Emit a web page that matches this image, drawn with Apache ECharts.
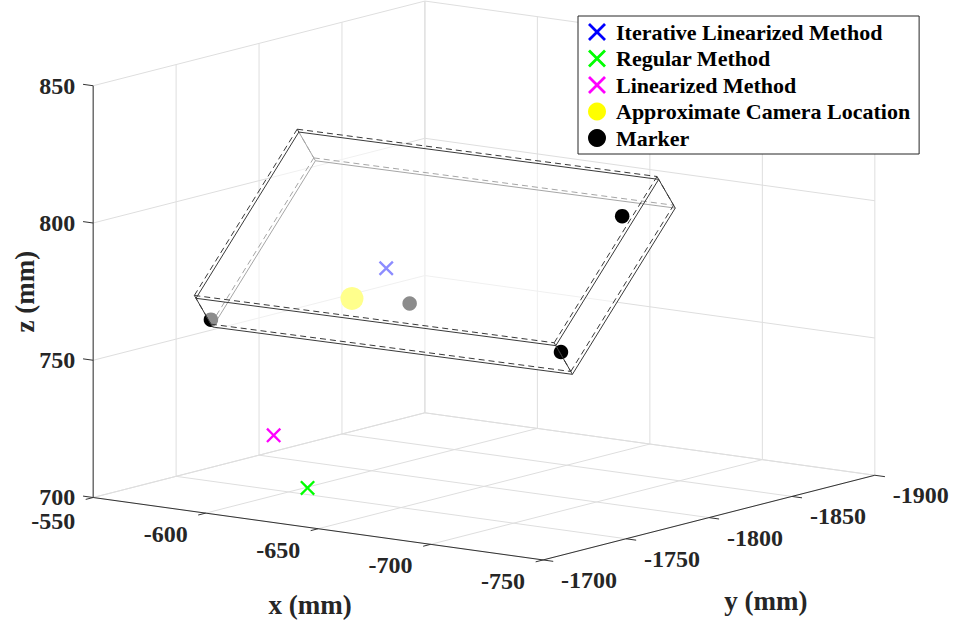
<!DOCTYPE html>
<html><head><meta charset="utf-8">
<script src="https://cdn.jsdelivr.net/npm/echarts@6/dist/echarts.min.js"></script>
<style>html,body{margin:0;padding:0;background:#fff}#c{width:955px;height:622px}</style>
</head><body><div id="c"></div>
<script>
// ---------------- data (mm) ----------------
const xTicks = [-550, -600, -650, -700, -750];
const yTicks = [-1700, -1750, -1800, -1850, -1900];
const zTicks = [700, 750, 800, 850];
const xTickLabels = ['-550', '-600', '-650', '-700', '-750'];
const yTickLabels = ['-1700', '-1750', '-1800', '-1850', '-1900'];
const zTickLabels = ['700', '750', '800', '850'];
const axisTitles = ['x (mm)', 'y (mm)', 'z (mm)'];
const seriesNames = ['Iterative Linearized Method', 'Regular Method', 'Linearized Method', 'Approximate Camera Location', 'Marker'];

const iterX = [-608], iterY = [-1798], iterZ = [775];
const regularX = [-604], regularY = [-1756], regularZ = [701];
const linX = [-600], linY = [-1741], linZ = [722];
const camX = [-595], camY = [-1795], camZ = [763];
const markerX = [-550.8, -626.9, -712.6, -707];
const markerY = [-1769.9, -1786.5, -1761.5, -1806];
const markerZ = [754.1, 766.1, 762.0, 804];

// board (thin box): one corner and its three edge vectors
const boardOrigin = [-550, -1762, 763];
const boardEdge1 = [-157, -4, 0];
const boardEdge2 = [0, -62, 51];
const boardEdge3 = [0, -10, -12];
const boardOutlineShift = [0, 1, 1.2]; // second (dashed) outline

// ---------------- 3D view (orthographic) ----------------
const VIEW = { az: 36.4, el: 10.85, scale: 2.795, cx: 484, cy: 280.5 };
const XC = (Math.min(...xTicks) + Math.max(...xTicks)) / 2;
const YC = (Math.min(...yTicks) + Math.max(...yTicks)) / 2;
const ZC = (Math.min(...zTicks) + Math.max(...zTicks)) / 2;
const ct = Math.cos(VIEW.az * Math.PI / 180), st = Math.sin(VIEW.az * Math.PI / 180);
const cp = Math.cos(VIEW.el * Math.PI / 180), sp = Math.sin(VIEW.el * Math.PI / 180);
function rot(d) { // data-direction -> [sx, sy, depth]
  const u = -d[0], v = -d[1], w = d[2];
  return [VIEW.scale * (u * ct + v * st),
          VIEW.scale * sp * (u * st - v * ct) - VIEW.scale * cp * w,
          cp * st * u - cp * ct * v + sp * w];
}
function proj(p) {
  const r = rot([p[0] - XC, p[1] - YC, p[2] - ZC]);
  return [VIEW.cx + r[0], VIEW.cy + r[1], r[2]];
}
const add = (a, b) => [a[0] + b[0], a[1] + b[1], a[2] + b[2]];
const mul = (a, k) => [a[0] * k, a[1] * k, a[2] * k];

const X0 = xTicks[0], X1 = xTicks[xTicks.length - 1];
const Y0 = yTicks[0], Y1 = yTicks[yTicks.length - 1];
const Z0 = zTicks[0], Z1 = zTicks[zTicks.length - 1];

// ---------------- grid lines on the three back planes ----------------
const gridSegs = [];
function seg3(a, b) { const p = proj(a), q = proj(b); return [p[0], p[1], q[0], q[1]]; }
xTicks.forEach(x => { gridSegs.push(seg3([x, Y0, Z0], [x, Y1, Z0])); gridSegs.push(seg3([x, Y1, Z0], [x, Y1, Z1])); });
yTicks.forEach(y => { gridSegs.push(seg3([X0, y, Z0], [X1, y, Z0])); gridSegs.push(seg3([X0, y, Z0], [X0, y, Z1])); });
zTicks.forEach(z => { gridSegs.push(seg3([X0, Y0, z], [X0, Y1, z])); gridSegs.push(seg3([X0, Y1, z], [X1, Y1, z])); });

// ---------------- axes + ticks ----------------
const axisSegs = [seg3([X0, Y0, Z0], [X0, Y0, Z1]), seg3([X0, Y0, Z0], [X1, Y0, Z0]), seg3([X1, Y0, Z0], [X1, Y1, Z0])];
const TICK = 4.5;
xTicks.forEach(x => axisSegs.push(seg3([x, Y0, Z0], [x, Y0 + TICK, Z0])));
yTicks.forEach(y => axisSegs.push(seg3([X1, y, Z0], [X1 - TICK, y, Z0])));
zTicks.forEach(z => axisSegs.push(seg3([X0, Y0, z], [X0 + TICK, Y0, z])));

// ---------------- board geometry ----------------
const E = [boardEdge1, boardEdge2, boardEdge3];
function vert(o, idx) { let p = o; for (let k = 0; k < 3; k++) if (idx[k]) p = add(p, E[k]); return p; }
function cross(a, b) { return [a[1] * b[2] - a[2] * b[1], a[2] * b[0] - a[0] * b[2], a[0] * b[1] - a[1] * b[0]]; }
const dot = (a, b) => a[0] * b[0] + a[1] * b[1] + a[2] * b[2];
const faces = [];
for (let k = 0; k < 3; k++) for (let s = 0; s < 2; s++) {
  const i1 = (k + 1) % 3, i2 = (k + 2) % 3;
  let n = cross(E[i1], E[i2]);
  if (dot(n, E[k]) < 0) n = mul(n, -1);
  if (!s) n = mul(n, -1);
  const front = rot(n)[2] > 0;
  const base = [0, 0, 0]; base[k] = s;
  faces.push({ k, s, front, o: vert(boardOrigin, base), a: E[i1], b: E[i2] });
}
const faceFront = (k, s) => faces.find(f => f.k === k && f.s === s).front;
function boxEdges(o, hidden) {
  const out = [];
  for (let k = 0; k < 3; k++) {
    const i1 = (k + 1) % 3, i2 = (k + 2) % 3;
    for (let p = 0; p < 2; p++) for (let q = 0; q < 2; q++) {
      const vis = faceFront(i1, p) || faceFront(i2, q);
      if (vis === hidden) continue;
      const a = [0, 0, 0]; a[i1] = p; a[i2] = q;
      const b = a.slice(); b[k] = 1;
      out.push(seg3(vert(o, a), vert(o, b)));
    }
  }
  return out;
}
const shiftedOrigin = add(boardOrigin, boardOutlineShift);
const facePolys = faces.filter(f => f.front).map(f => {
  const c = [f.o, add(f.o, f.a), add(add(f.o, f.a), f.b), add(f.o, f.b)].map(proj);
  return c.map(p => [p[0], p[1]]);
});

// is a point hidden behind a front face of the board?
function isBehind(p) {
  const P = proj(p);
  for (const f of faces) {
    if (!f.front) continue;
    const O = proj(f.o), A = rot(f.a), B = rot(f.b);
    const dx = P[0] - O[0], dy = P[1] - O[1];
    const det = A[0] * B[1] - A[1] * B[0];
    const m = (dx * B[1] - dy * B[0]) / det, n = (A[0] * dy - A[1] * dx) / det;
    const eps = 0.04;
    if (m < -eps || m > 1 + eps || n < -eps || n > 1 + eps) continue;
    const fd = O[2] + m * A[2] + n * B[2];
    if (P[2] < fd - 0.01) return true;
  }
  return false;
}

// ---------------- series ----------------
function segSeries(segs, stroke, width, dash, z) {
  return {
    type: 'custom', silent: true, z: z, data: segs,
    dimensions: ['x1', 'y1', 'x2', 'y2'], encode: { x: [0, 2], y: [1, 3] },
    renderItem: (params, api) => {
      const a = api.coord([api.value(0), api.value(1)]);
      const b = api.coord([api.value(2), api.value(3)]);
      return { type: 'line', shape: { x1: a[0], y1: a[1], x2: b[0], y2: b[1] },
        style: { stroke: stroke, lineWidth: width, lineDash: dash || null, fill: null } };
    }
  };
}
function textSeries(items, font, fill, align, rotation) {
  return {
    type: 'custom', silent: true, z: 7,
    data: items.map(t => [t[0], t[1]]),
    renderItem: (params, api) => {
      const c = api.coord([api.value(0), api.value(1)]);
      return { type: 'text', x: c[0], y: c[1], rotation: rotation || 0,
        style: { text: items[params.dataIndex][2], font: font, fill: fill, align: align, verticalAlign: 'middle' } };
    }
  };
}
const XSYM = 'path://M0,2.2L2.2,0L10,7.8L17.8,0L20,2.2L12.2,10L20,17.8L17.8,20L10,12.2L2.2,20L0,17.8L7.8,10Z';
const scatterDefs = [
  { name: seriesNames[0], X: iterX, Y: iterY, Z: iterZ, color: '#0000ff', symbol: XSYM, size: 15 },
  { name: seriesNames[1], X: regularX, Y: regularY, Z: regularZ, color: '#00ff00', symbol: XSYM, size: 15 },
  { name: seriesNames[2], X: linX, Y: linY, Z: linZ, color: '#ff00ff', symbol: XSYM, size: 15 },
  { name: seriesNames[3], X: camX, Y: camY, Z: camZ, color: '#ffff00', symbol: 'circle', size: 23 },
  { name: seriesNames[4], X: markerX, Y: markerY, Z: markerZ, color: '#000000', symbol: 'circle', size: 14.5 }
];
const scatterSeries = [];
scatterDefs.forEach(d => {
  const back = [], front = [];
  d.X.forEach((x, i) => {
    const p = [x, d.Y[i], d.Z[i]];
    const s = proj(p);
    (isBehind(p) ? back : front).push([s[0], s[1]]);
  });
  [[back, 3], [front, 4.5]].forEach(([data, z]) => {
    scatterSeries.push({ type: 'scatter', name: d.name, data: data, symbol: d.symbol, symbolSize: d.size,
      itemStyle: { color: d.color, opacity: 1 }, z: z, silent: true });
  });
});

const FONT_TICK = 'bold 24px "Liberation Serif", "Times New Roman", serif';
const FONT_TITLE = 'bold 27px "Liberation Serif", "Times New Roman", serif';
const xLab = xTicks.map((x, i) => { const p = proj([x, Y0, Z0]); return [p[0] - 40, p[1] + (i === 0 ? 23 : 21), xTickLabels[i]]; });
const yLab = yTicks.map((y, i) => { const p = proj([X1, y, Z0]); return [p[0] + 46, p[1] + 20, yTickLabels[i]]; });
const zLab = zTicks.map((z, i) => { const p = proj([X0, Y0, z]); return [p[0] - 18, p[1] - (i === 0 ? 1 : 0), zTickLabels[i]]; });
const xm = proj([(X0 + X1) / 2, Y0, Z0]), ym = proj([X1, (Y0 + Y1) / 2, Z0]), zm = proj([X0, Y0, (Z0 + Z1) / 2]);

const series = [
  segSeries(gridSegs, '#dedede', 1, null, 1),
  segSeries(axisSegs, '#333333', 1, null, 1),
  segSeries(boxEdges(boardOrigin, true), '#3a3a3a', 1, null, 2),
  segSeries(boxEdges(shiftedOrigin, true), '#3a3a3a', 1, [6, 4], 2),
  {
    type: 'custom', silent: true, z: 4, data: facePolys.map((p, i) => [i]),
    renderItem: (params, api) => ({ type: 'polygon',
      shape: { points: facePolys[params.dataIndex].map(q => api.coord(q)) },
      style: { fill: 'rgba(255,255,255,0.55)', stroke: null } })
  },
  segSeries(boxEdges(boardOrigin, false), '#3a3a3a', 1, null, 5),
  segSeries(boxEdges(shiftedOrigin, false), '#3a3a3a', 1, [6, 4], 5),
  ...scatterSeries,
  textSeries(xLab, FONT_TICK, '#262626', 'center'),
  textSeries(yLab, FONT_TICK, '#262626', 'center'),
  textSeries(zLab, FONT_TICK, '#262626', 'right'),
  textSeries([[xm[0] - 8, xm[1] + 76, axisTitles[0]], [ym[0] + 57, ym[1] + 83, axisTitles[1]]], FONT_TITLE, '#262626', 'center'),
  textSeries([[zm[0] - 68, zm[1], axisTitles[2]]], FONT_TITLE, '#262626', 'center', Math.PI / 2)
];

const chart = echarts.init(document.getElementById('c'), null, { renderer: 'svg', width: 955, height: 622 });
chart.setOption({
  animation: false,
  backgroundColor: '#ffffff',
  grid: { left: 0, right: 0, top: 0, bottom: 0 },
  xAxis: { type: 'value', min: 0, max: 955, show: false },
  yAxis: { type: 'value', min: 0, max: 622, inverse: true, show: false },
  legend: {
    data: seriesNames, orient: 'vertical', left: 578, top: 16,
    backgroundColor: '#ffffff', borderColor: '#262626', borderWidth: 1, borderRadius: 0,
    padding: [5, 9, 5, 10], itemGap: 4.5, itemWidth: 18, itemHeight: 18, selectedMode: false,
    textStyle: { fontFamily: '"Liberation Serif", "Times New Roman", serif', fontWeight: 'bold', fontSize: 22,
      color: '#000000', lineHeight: 22, padding: [0, 0, 0, 5] }
  },
  series: series
});
</script></body></html>
